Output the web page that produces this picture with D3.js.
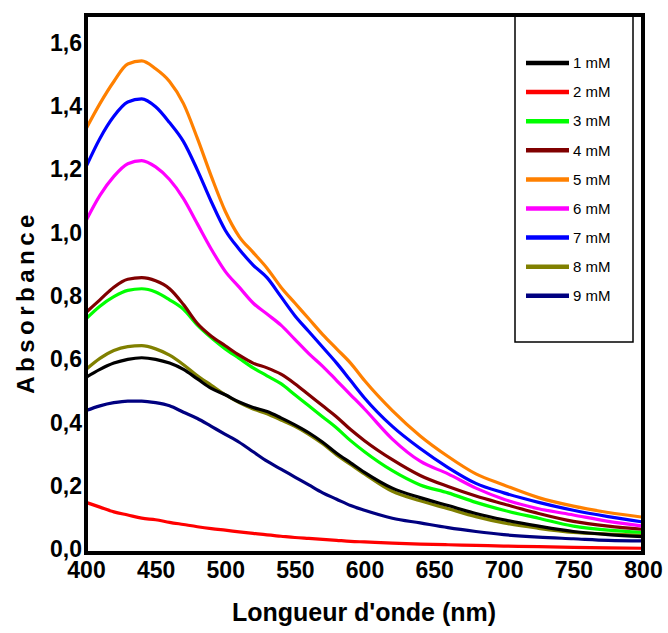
<!DOCTYPE html>
<html><head><meta charset="utf-8">
<script src="https://cdn.jsdelivr.net/npm/d3@7"></script>
<style>
body{margin:0;background:#fff;}
svg text{font-family:"Liberation Sans",Arial,sans-serif;fill:#000;}
</style></head>
<body><svg id="chart" width="668" height="633"></svg>
<script>
const wavelengths = [400,410,420,430,440,450,460,470,480,490,500,510,520,530,540,550,560,570,580,590,600,620,640,660,680,700,725,750,775,800];
const seriesNames = ["1 mM","2 mM","3 mM","4 mM","5 mM","6 mM","7 mM","8 mM","9 mM"];
const seriesColors = ["#000000","#ff0000","#00ff00","#800000","#ff8000","#ff00ff","#0000ff","#808000","#000080"];
const s1 = [0.555,0.58,0.60,0.612,0.617,0.612,0.60,0.58,0.55,0.52,0.50,0.477,0.46,0.447,0.427,0.405,0.38,0.35,0.315,0.285,0.255,0.205,0.175,0.15,0.125,0.105,0.085,0.068,0.058,0.052];
const s2 = [0.16,0.145,0.13,0.12,0.11,0.105,0.097,0.09,0.083,0.077,0.072,0.067,0.062,0.057,0.053,0.049,0.046,0.043,0.04,0.037,0.035,0.031,0.028,0.026,0.024,0.022,0.02,0.018,0.016,0.015];
const s3 = [0.74,0.78,0.81,0.83,0.835,0.825,0.80,0.77,0.72,0.68,0.645,0.615,0.585,0.56,0.535,0.50,0.465,0.43,0.395,0.355,0.32,0.26,0.215,0.19,0.16,0.135,0.11,0.085,0.072,0.065];
const s4 = [0.76,0.80,0.84,0.865,0.87,0.86,0.835,0.785,0.725,0.685,0.655,0.625,0.60,0.585,0.565,0.535,0.50,0.465,0.43,0.39,0.355,0.295,0.245,0.21,0.18,0.155,0.125,0.10,0.085,0.075];
const s5 = [1.34,1.42,1.49,1.545,1.555,1.53,1.49,1.42,1.31,1.19,1.08,1.00,0.95,0.90,0.84,0.79,0.74,0.69,0.645,0.60,0.545,0.45,0.37,0.305,0.25,0.215,0.175,0.148,0.128,0.113];
const s6 = [1.05,1.13,1.19,1.23,1.24,1.22,1.18,1.12,1.04,0.96,0.89,0.84,0.79,0.755,0.72,0.675,0.63,0.59,0.545,0.50,0.455,0.36,0.29,0.25,0.205,0.17,0.14,0.12,0.10,0.085];
const s7 = [1.22,1.31,1.38,1.425,1.435,1.41,1.36,1.30,1.21,1.11,1.02,0.96,0.91,0.87,0.81,0.75,0.70,0.65,0.60,0.545,0.49,0.40,0.33,0.27,0.22,0.19,0.16,0.135,0.115,0.098];
const s8 = [0.58,0.615,0.64,0.652,0.655,0.645,0.625,0.595,0.56,0.53,0.50,0.475,0.455,0.44,0.42,0.40,0.375,0.345,0.31,0.28,0.25,0.195,0.165,0.14,0.115,0.095,0.078,0.065,0.06,0.056];
const s9 = [0.45,0.465,0.475,0.48,0.48,0.475,0.465,0.445,0.425,0.40,0.375,0.35,0.32,0.29,0.265,0.24,0.215,0.19,0.17,0.15,0.135,0.11,0.095,0.08,0.068,0.058,0.05,0.045,0.04,0.038];
const seriesValues = [s1,s2,s3,s4,s5,s6,s7,s8,s9];
const xTicks = [400,450,500,550,600,650,700,750,800];
const yTicks = [0,0.2,0.4,0.6,0.8,1.0,1.2,1.4,1.6];

const svg = d3.select("#chart");
const x = d3.scaleLinear().domain([400,800]).range([86,643]);
const y = d3.scaleLinear().domain([0,1.7]).range([553,15]);

// lines
const line = d3.line().x(d=>x(d[0])).y(d=>y(d[1])).curve(d3.curveMonotoneX);
const drawOrder = [1,8,7,0,2,3,5,6,4];
drawOrder.forEach(i=>{
  svg.append("path")
    .datum(wavelengths.map((w,j)=>[w,seriesValues[i][j]]))
    .attr("d",line).attr("fill","none")
    .attr("stroke",seriesColors[i]).attr("stroke-width",3.2)
    .attr("stroke-linejoin","round");
});

// frame
svg.append("rect").attr("x",86).attr("y",15).attr("width",557).attr("height",538)
  .attr("fill","none").attr("stroke","#000").attr("stroke-width",4);

// axes
const xAxis = svg.append("g").attr("transform","translate(0,553)")
  .call(d3.axisBottom(x).tickValues(xTicks).tickSize(0).tickPadding(6).tickFormat(d3.format("d")));
const yAxis = svg.append("g").attr("transform","translate(86,0)")
  .call(d3.axisLeft(y).tickValues(yTicks).tickSize(0).tickPadding(4).tickFormat(d=>d3.format(".1f")(d).replace(".",",")));
[xAxis,yAxis].forEach(g=>{
  g.select(".domain").remove();
  g.selectAll("text").attr("fill","#000").style("font-size","23px").style("font-weight","bold")
    .style("font-family","'Liberation Sans',Arial,sans-serif");
});
xAxis.selectAll("text").attr("dy","0.84em");
yAxis.selectAll("text").attr("dy","0.16em");

// axis titles
svg.append("text").attr("x",364).attr("y",621).attr("text-anchor","middle")
  .style("font-size","25px").style("font-weight","bold").text("Longueur d'onde (nm)");
svg.append("text").attr("transform","translate(34,304) rotate(-90)").attr("text-anchor","middle")
  .attr("dx","2")
  .style("font-size","24px").style("font-weight","bold").style("letter-spacing","4.5px").text("Absorbance");

// legend
svg.append("rect").attr("x",515).attr("y",15).attr("width",118).attr("height",327)
  .attr("fill","#fff").attr("stroke","#000").attr("stroke-width",1.5);
seriesNames.forEach((n,i)=>{
  const yy = 63 + i*29.1;
  svg.append("line").attr("x1",526).attr("x2",569).attr("y1",yy).attr("y2",yy)
    .attr("stroke",seriesColors[i]).attr("stroke-width",4.5);
  svg.append("text").attr("x",573).attr("y",yy).attr("dy","0.35em")
    .style("font-size","15px").text(n);
});
// top frame redraw over legend
svg.append("line").attr("x1",84).attr("x2",645).attr("y1",15).attr("y2",15).attr("stroke","#000").attr("stroke-width",4);
</script></body></html>
